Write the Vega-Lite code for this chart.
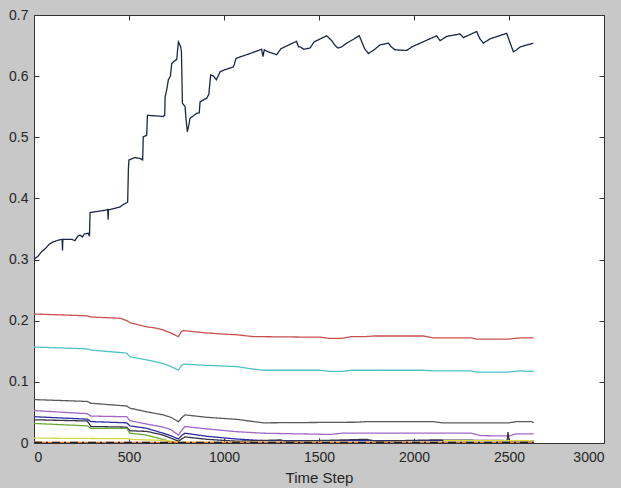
{
  "$schema": "https://vega.github.io/schema/vega-lite/v6.json",
  "width": 570,
  "height": 428,
  "autosize": {"type": "none"},
  "padding": {"left": 34, "top": 15, "right": 17, "bottom": 45},
  "background": "#c8c8c8",
  "config": {
    "view": {"stroke": "#333333", "strokeWidth": 1, "fill": "white"},
    "font": "Liberation Sans",
    "axis": {
      "labelFont": "Liberation Sans",
      "titleFont": "Liberation Sans",
      "labelFontSize": 14,
      "titleFontSize": 15,
      "titleFontWeight": "normal",
      "labelColor": "#262626",
      "titleColor": "#262626",
      "grid": false,
      "domain": false,
      "tickColor": "#333333",
      "tickSize": -5,
      "labelPadding": 11
    }
  },
  "datasets": {
    "lines": [
      {"s": "navy", "t": 0, "v": 0.298}, {"s": "navy", "t": 5, "v": 0.302}, {"s": "navy", "t": 20, "v": 0.305}, {"s": "navy", "t": 40, "v": 0.313}, {"s": "navy", "t": 60, "v": 0.318}, {"s": "navy", "t": 80, "v": 0.325}, {"s": "navy", "t": 102, "v": 0.329}, {"s": "navy", "t": 130, "v": 0.332}, {"s": "navy", "t": 148, "v": 0.333}, {"s": "navy", "t": 150, "v": 0.315}, {"s": "navy", "t": 152, "v": 0.333}, {"s": "navy", "t": 200, "v": 0.333}, {"s": "navy", "t": 215, "v": 0.331}, {"s": "navy", "t": 230, "v": 0.338}, {"s": "navy", "t": 242, "v": 0.340}, {"s": "navy", "t": 255, "v": 0.337}, {"s": "navy", "t": 265, "v": 0.342}, {"s": "navy", "t": 286, "v": 0.343}, {"s": "navy", "t": 292, "v": 0.338}, {"s": "navy", "t": 295, "v": 0.377}, {"s": "navy", "t": 340, "v": 0.379}, {"s": "navy", "t": 380, "v": 0.381}, {"s": "navy", "t": 388, "v": 0.382}, {"s": "navy", "t": 390, "v": 0.365}, {"s": "navy", "t": 392, "v": 0.381}, {"s": "navy", "t": 453, "v": 0.386}, {"s": "navy", "t": 470, "v": 0.390}, {"s": "navy", "t": 488, "v": 0.393}, {"s": "navy", "t": 493, "v": 0.394}, {"s": "navy", "t": 497, "v": 0.450}, {"s": "navy", "t": 500, "v": 0.463}, {"s": "navy", "t": 532, "v": 0.467}, {"s": "navy", "t": 560, "v": 0.465}, {"s": "navy", "t": 572, "v": 0.463}, {"s": "navy", "t": 575, "v": 0.501}, {"s": "navy", "t": 593, "v": 0.503}, {"s": "navy", "t": 597, "v": 0.536}, {"s": "navy", "t": 640, "v": 0.535}, {"s": "navy", "t": 681, "v": 0.534}, {"s": "navy", "t": 688, "v": 0.536}, {"s": "navy", "t": 690, "v": 0.566}, {"s": "navy", "t": 700, "v": 0.580}, {"s": "navy", "t": 707, "v": 0.594}, {"s": "navy", "t": 718, "v": 0.600}, {"s": "navy", "t": 725, "v": 0.621}, {"s": "navy", "t": 740, "v": 0.625}, {"s": "navy", "t": 751, "v": 0.627}, {"s": "navy", "t": 755, "v": 0.640}, {"s": "navy", "t": 760, "v": 0.656}, {"s": "navy", "t": 766, "v": 0.652}, {"s": "navy", "t": 772, "v": 0.648}, {"s": "navy", "t": 776, "v": 0.640}, {"s": "navy", "t": 781, "v": 0.556}, {"s": "navy", "t": 795, "v": 0.550}, {"s": "navy", "t": 800, "v": 0.530}, {"s": "navy", "t": 807, "v": 0.509}, {"s": "navy", "t": 815, "v": 0.520}, {"s": "navy", "t": 821, "v": 0.531}, {"s": "navy", "t": 856, "v": 0.539}, {"s": "navy", "t": 870, "v": 0.540}, {"s": "navy", "t": 874, "v": 0.558}, {"s": "navy", "t": 909, "v": 0.564}, {"s": "navy", "t": 920, "v": 0.570}, {"s": "navy", "t": 930, "v": 0.602}, {"s": "navy", "t": 945, "v": 0.600}, {"s": "navy", "t": 960, "v": 0.594}, {"s": "navy", "t": 979, "v": 0.607}, {"s": "navy", "t": 1000, "v": 0.610}, {"s": "navy", "t": 1049, "v": 0.615}, {"s": "navy", "t": 1055, "v": 0.620}, {"s": "navy", "t": 1063, "v": 0.629}, {"s": "navy", "t": 1100, "v": 0.633}, {"s": "navy", "t": 1137, "v": 0.637}, {"s": "navy", "t": 1198, "v": 0.644}, {"s": "navy", "t": 1205, "v": 0.632}, {"s": "navy", "t": 1212, "v": 0.643}, {"s": "navy", "t": 1230, "v": 0.640}, {"s": "navy", "t": 1250, "v": 0.638}, {"s": "navy", "t": 1277, "v": 0.635}, {"s": "navy", "t": 1300, "v": 0.645}, {"s": "navy", "t": 1382, "v": 0.657}, {"s": "navy", "t": 1392, "v": 0.648}, {"s": "navy", "t": 1400, "v": 0.648}, {"s": "navy", "t": 1420, "v": 0.644}, {"s": "navy", "t": 1453, "v": 0.646}, {"s": "navy", "t": 1474, "v": 0.656}, {"s": "navy", "t": 1540, "v": 0.666}, {"s": "navy", "t": 1567, "v": 0.658}, {"s": "navy", "t": 1585, "v": 0.650}, {"s": "navy", "t": 1600, "v": 0.646}, {"s": "navy", "t": 1620, "v": 0.648}, {"s": "navy", "t": 1646, "v": 0.654}, {"s": "navy", "t": 1712, "v": 0.666}, {"s": "navy", "t": 1740, "v": 0.645}, {"s": "navy", "t": 1760, "v": 0.637}, {"s": "navy", "t": 1790, "v": 0.643}, {"s": "navy", "t": 1821, "v": 0.651}, {"s": "navy", "t": 1865, "v": 0.654}, {"s": "navy", "t": 1880, "v": 0.648}, {"s": "navy", "t": 1900, "v": 0.643}, {"s": "navy", "t": 1961, "v": 0.642}, {"s": "navy", "t": 1990, "v": 0.648}, {"s": "navy", "t": 2119, "v": 0.666}, {"s": "navy", "t": 2137, "v": 0.658}, {"s": "navy", "t": 2172, "v": 0.665}, {"s": "navy", "t": 2242, "v": 0.669}, {"s": "navy", "t": 2260, "v": 0.663}, {"s": "navy", "t": 2330, "v": 0.673}, {"s": "navy", "t": 2345, "v": 0.662}, {"s": "navy", "t": 2365, "v": 0.654}, {"s": "navy", "t": 2400, "v": 0.661}, {"s": "navy", "t": 2488, "v": 0.670}, {"s": "navy", "t": 2505, "v": 0.655}, {"s": "navy", "t": 2523, "v": 0.640}, {"s": "navy", "t": 2540, "v": 0.643}, {"s": "navy", "t": 2560, "v": 0.648}, {"s": "navy", "t": 2628, "v": 0.654},

      {"s": "red", "t": 0, "v": 0.211}, {"s": "red", "t": 280, "v": 0.208}, {"s": "red", "t": 300, "v": 0.206}, {"s": "red", "t": 453, "v": 0.204}, {"s": "red", "t": 490, "v": 0.200}, {"s": "red", "t": 505, "v": 0.197}, {"s": "red", "t": 550, "v": 0.193}, {"s": "red", "t": 593, "v": 0.190}, {"s": "red", "t": 640, "v": 0.188}, {"s": "red", "t": 680, "v": 0.185}, {"s": "red", "t": 720, "v": 0.180}, {"s": "red", "t": 745, "v": 0.176}, {"s": "red", "t": 760, "v": 0.174}, {"s": "red", "t": 775, "v": 0.182}, {"s": "red", "t": 786, "v": 0.184}, {"s": "red", "t": 840, "v": 0.182}, {"s": "red", "t": 909, "v": 0.180}, {"s": "red", "t": 1000, "v": 0.178}, {"s": "red", "t": 1067, "v": 0.177}, {"s": "red", "t": 1154, "v": 0.174}, {"s": "red", "t": 1505, "v": 0.173}, {"s": "red", "t": 1560, "v": 0.171}, {"s": "red", "t": 1620, "v": 0.171}, {"s": "red", "t": 1670, "v": 0.174}, {"s": "red", "t": 1740, "v": 0.174}, {"s": "red", "t": 1790, "v": 0.175}, {"s": "red", "t": 2050, "v": 0.175}, {"s": "red", "t": 2100, "v": 0.172}, {"s": "red", "t": 2300, "v": 0.172}, {"s": "red", "t": 2330, "v": 0.170}, {"s": "red", "t": 2500, "v": 0.170}, {"s": "red", "t": 2560, "v": 0.172}, {"s": "red", "t": 2630, "v": 0.172},

      {"s": "cyan", "t": 0, "v": 0.157}, {"s": "cyan", "t": 280, "v": 0.154}, {"s": "cyan", "t": 300, "v": 0.152}, {"s": "cyan", "t": 488, "v": 0.147}, {"s": "cyan", "t": 505, "v": 0.141}, {"s": "cyan", "t": 593, "v": 0.136}, {"s": "cyan", "t": 680, "v": 0.130}, {"s": "cyan", "t": 720, "v": 0.125}, {"s": "cyan", "t": 760, "v": 0.119}, {"s": "cyan", "t": 775, "v": 0.126}, {"s": "cyan", "t": 786, "v": 0.129}, {"s": "cyan", "t": 909, "v": 0.127}, {"s": "cyan", "t": 1067, "v": 0.125}, {"s": "cyan", "t": 1150, "v": 0.121}, {"s": "cyan", "t": 1207, "v": 0.119}, {"s": "cyan", "t": 1505, "v": 0.119}, {"s": "cyan", "t": 1560, "v": 0.117}, {"s": "cyan", "t": 1620, "v": 0.117}, {"s": "cyan", "t": 1670, "v": 0.119}, {"s": "cyan", "t": 2050, "v": 0.119}, {"s": "cyan", "t": 2100, "v": 0.118}, {"s": "cyan", "t": 2300, "v": 0.118}, {"s": "cyan", "t": 2330, "v": 0.116}, {"s": "cyan", "t": 2500, "v": 0.116}, {"s": "cyan", "t": 2560, "v": 0.118}, {"s": "cyan", "t": 2630, "v": 0.117},

      {"s": "gray", "t": 0, "v": 0.071}, {"s": "gray", "t": 280, "v": 0.068}, {"s": "gray", "t": 300, "v": 0.065}, {"s": "gray", "t": 488, "v": 0.0605}, {"s": "gray", "t": 505, "v": 0.057}, {"s": "gray", "t": 593, "v": 0.051}, {"s": "gray", "t": 680, "v": 0.046}, {"s": "gray", "t": 720, "v": 0.042}, {"s": "gray", "t": 760, "v": 0.035}, {"s": "gray", "t": 780, "v": 0.042}, {"s": "gray", "t": 795, "v": 0.046}, {"s": "gray", "t": 909, "v": 0.042}, {"s": "gray", "t": 1067, "v": 0.0387}, {"s": "gray", "t": 1207, "v": 0.033}, {"s": "gray", "t": 1700, "v": 0.034}, {"s": "gray", "t": 1750, "v": 0.035}, {"s": "gray", "t": 2100, "v": 0.035}, {"s": "gray", "t": 2150, "v": 0.033}, {"s": "gray", "t": 2500, "v": 0.033}, {"s": "gray", "t": 2540, "v": 0.035}, {"s": "gray", "t": 2620, "v": 0.035}, {"s": "gray", "t": 2630, "v": 0.033},

      {"s": "purple", "t": 0, "v": 0.053}, {"s": "purple", "t": 280, "v": 0.048}, {"s": "purple", "t": 300, "v": 0.044}, {"s": "purple", "t": 488, "v": 0.043}, {"s": "purple", "t": 505, "v": 0.0365}, {"s": "purple", "t": 593, "v": 0.031}, {"s": "purple", "t": 680, "v": 0.026}, {"s": "purple", "t": 720, "v": 0.022}, {"s": "purple", "t": 760, "v": 0.013}, {"s": "purple", "t": 780, "v": 0.022}, {"s": "purple", "t": 795, "v": 0.027}, {"s": "purple", "t": 909, "v": 0.023}, {"s": "purple", "t": 1067, "v": 0.0185}, {"s": "purple", "t": 1207, "v": 0.016}, {"s": "purple", "t": 1560, "v": 0.014}, {"s": "purple", "t": 1620, "v": 0.016}, {"s": "purple", "t": 2300, "v": 0.016}, {"s": "purple", "t": 2350, "v": 0.012}, {"s": "purple", "t": 2500, "v": 0.0115}, {"s": "purple", "t": 2540, "v": 0.015}, {"s": "purple", "t": 2630, "v": 0.015},

      {"s": "blue", "t": 0, "v": 0.043}, {"s": "blue", "t": 280, "v": 0.039}, {"s": "blue", "t": 300, "v": 0.035}, {"s": "blue", "t": 488, "v": 0.033}, {"s": "blue", "t": 505, "v": 0.028}, {"s": "blue", "t": 593, "v": 0.024}, {"s": "blue", "t": 680, "v": 0.016}, {"s": "blue", "t": 720, "v": 0.012}, {"s": "blue", "t": 760, "v": 0.0065}, {"s": "blue", "t": 780, "v": 0.013}, {"s": "blue", "t": 795, "v": 0.016}, {"s": "blue", "t": 909, "v": 0.011}, {"s": "blue", "t": 1067, "v": 0.0065}, {"s": "blue", "t": 1200, "v": 0.004}, {"s": "blue", "t": 2630, "v": 0.004},

      {"s": "dark", "t": 0, "v": 0.038}, {"s": "dark", "t": 280, "v": 0.036}, {"s": "dark", "t": 300, "v": 0.027}, {"s": "dark", "t": 488, "v": 0.026}, {"s": "dark", "t": 505, "v": 0.020}, {"s": "dark", "t": 593, "v": 0.019}, {"s": "dark", "t": 680, "v": 0.013}, {"s": "dark", "t": 760, "v": 0.003}, {"s": "dark", "t": 795, "v": 0.010}, {"s": "dark", "t": 909, "v": 0.006}, {"s": "dark", "t": 1067, "v": 0.003}, {"s": "dark", "t": 1300, "v": 0.005}, {"s": "dark", "t": 1320, "v": 0.003}, {"s": "dark", "t": 1500, "v": 0.004}, {"s": "dark", "t": 1750, "v": 0.006}, {"s": "dark", "t": 1800, "v": 0.003}, {"s": "dark", "t": 2100, "v": 0.005}, {"s": "dark", "t": 2490, "v": 0.004}, {"s": "dark", "t": 2495, "v": 0.018}, {"s": "dark", "t": 2500, "v": 0.004}, {"s": "dark", "t": 2630, "v": 0.004},

      {"s": "green", "t": 0, "v": 0.032}, {"s": "green", "t": 280, "v": 0.028}, {"s": "green", "t": 300, "v": 0.024}, {"s": "green", "t": 488, "v": 0.024}, {"s": "green", "t": 505, "v": 0.016}, {"s": "green", "t": 593, "v": 0.013}, {"s": "green", "t": 680, "v": 0.006}, {"s": "green", "t": 720, "v": 0.002}, {"s": "green", "t": 760, "v": 0.0}, {"s": "green", "t": 2630, "v": 0.0},

      {"s": "yellow", "t": 0, "v": 0.008}, {"s": "yellow", "t": 490, "v": 0.007}, {"s": "yellow", "t": 505, "v": 0.006}, {"s": "yellow", "t": 700, "v": 0.004}, {"s": "yellow", "t": 760, "v": 0.001}, {"s": "yellow", "t": 2150, "v": 0.001}, {"s": "yellow", "t": 2160, "v": 0.004}, {"s": "yellow", "t": 2630, "v": 0.004},

      {"s": "orange", "t": 0, "v": 0.002}, {"s": "orange", "t": 60, "v": 0.001}, {"s": "orange", "t": 2630, "v": 0.001},

      {"s": "dashk", "t": 0, "v": 0.001}, {"s": "dashk", "t": 2630, "v": 0.001}
    ]
  },
  "data": {"name": "lines"},
  "layer": [
    {
      "mark": {"type": "line", "strokeWidth": 1.3, "clip": true},
      "encoding": {
        "x": {"field": "t", "type": "quantitative", "scale": {"domain": [0, 3000], "nice": false},
          "axis": {"orient": "bottom", "values": [0, 500, 1000, 1500, 2000, 2500, 3000], "format": "d", "title": "Time Step", "titlePadding": 6, "labelPadding": 12}},
        "y": {"field": "v", "type": "quantitative", "scale": {"domain": [0, 0.7], "nice": false},
          "axis": {"orient": "left", "values": [0, 0.1, 0.2, 0.3, 0.4, 0.5, 0.6, 0.7], "format": "~f", "title": null}},
        "color": {"field": "s", "type": "nominal", "legend": null,
          "scale": {"domain": ["orange", "dashk", "yellow", "green", "dark", "blue", "purple", "gray", "cyan", "red", "navy"],
                    "range": ["#e07b30", "#222222", "#d8d840", "#6aaa3a", "#333344", "#2c2ca0", "#a066c8", "#5a5a5a", "#4ec3c3", "#c8504f", "#1a2744"]}},
        "strokeDash": {"field": "s", "type": "nominal", "legend": null,
          "scale": {"domain": ["orange", "dashk", "yellow", "green", "dark", "blue", "purple", "gray", "cyan", "red", "navy"],
                    "range": [[1, 0], [8, 4, 2, 4], [1, 0], [1, 0], [1, 0], [1, 0], [1, 0], [1, 0], [1, 0], [1, 0], [1, 0]]}},
        "order": {"field": "t", "type": "quantitative"}
      }
    },
    {
      "mark": {"type": "point", "opacity": 0},
      "encoding": {
        "x": {"field": "t", "type": "quantitative",
          "axis": {"orient": "top", "values": [0, 500, 1000, 1500, 2000, 2500, 3000], "labels": false, "title": null}},
        "y": {"field": "v", "type": "quantitative",
          "axis": {"orient": "right", "values": [0, 0.1, 0.2, 0.3, 0.4, 0.5, 0.6, 0.7], "labels": false, "title": null}}
      }
    }
  ],
  "resolve": {"axis": {"x": "independent", "y": "independent"}}
}
